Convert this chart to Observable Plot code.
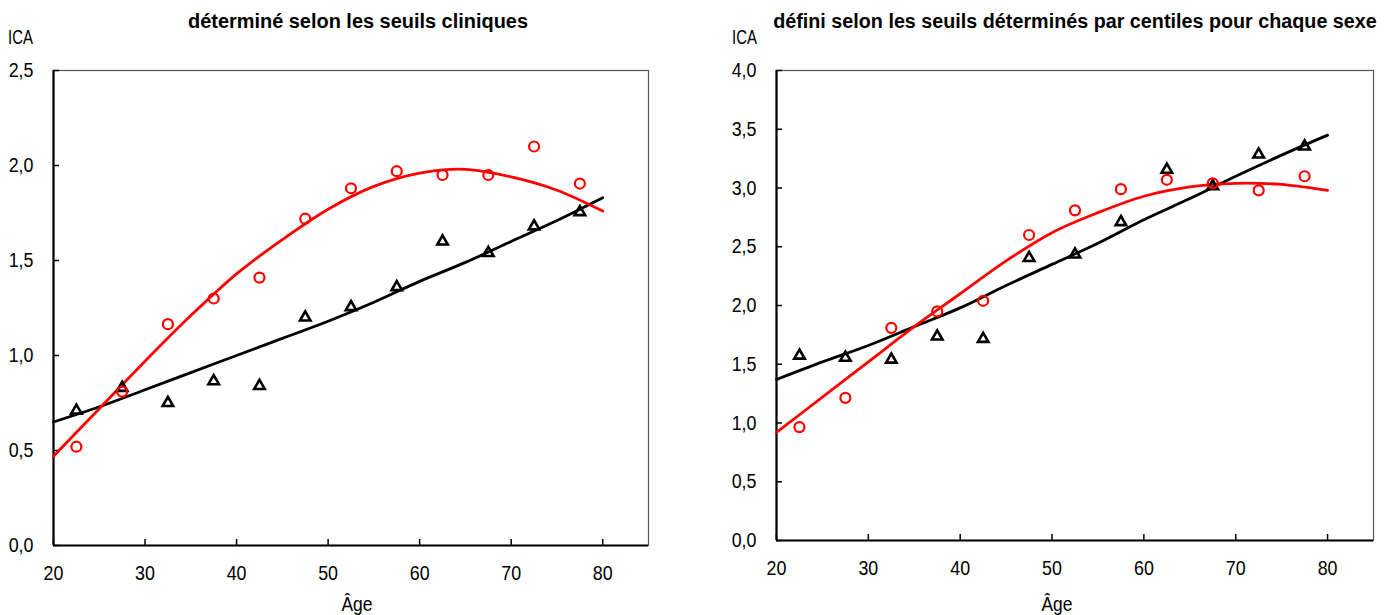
<!DOCTYPE html>
<html>
<head>
<meta charset="utf-8">
<script src="https://cdn.jsdelivr.net/npm/d3@7"></script>
<script src="https://cdn.jsdelivr.net/npm/@observablehq/plot@0.6"></script>
<style>
  html, body { margin: 0; padding: 0; background: #fff; }
  #wrap { display: flex; width: 1396px; height: 615px; font-family: "Liberation Sans", sans-serif; }
  #wrap svg { overflow: visible; flex: none; }
</style>
</head>
<body>
<div id="wrap"></div>
<script>
// Age groups (midpoints) for observed points
const ages = [22.5, 27.5, 32.5, 37.5, 42.5, 47.5, 52.5, 57.5, 62.5, 67.5, 72.5, 77.5];
// Ages at which fitted curves were read
const fitAges = [20, 25, 30, 35, 40, 45, 50, 55, 60, 65, 70, 75, 80];

// Left panel: clinical thresholds
const leftRedPts   = [0.52, 0.81, 1.165, 1.30, 1.41, 1.72, 1.88, 1.97, 1.95, 1.95, 2.10, 1.905];
const leftBlackPts = [0.71, 0.83, 0.75, 0.865, 0.84, 1.20, 1.255, 1.36, 1.60, 1.54, 1.68, 1.755];
const leftRedFit   = [0.47, 0.72, 0.97, 1.21, 1.43, 1.61, 1.77, 1.89, 1.96, 1.98, 1.94, 1.87, 1.76];
const leftBlackFit = [0.65, 0.73, 0.82, 0.91, 1.00, 1.09, 1.18, 1.28, 1.39, 1.49, 1.60, 1.71, 1.83];

// Right panel: sex-specific centile thresholds
const rightRedPts   = [0.965, 1.214, 1.81, 1.95, 2.04, 2.60, 2.81, 2.99, 3.07, 3.04, 2.98, 3.10];
const rightBlackPts = [1.574, 1.555, 1.54, 1.736, 1.716, 2.405, 2.434, 2.71, 3.155, 3.015, 3.285, 3.353];
const rightRedFit   = [0.92, 1.22, 1.52, 1.82, 2.10, 2.38, 2.62, 2.79, 2.93, 3.01, 3.04, 3.03, 2.98];
const rightBlackFit = [1.37, 1.52, 1.66, 1.82, 1.98, 2.17, 2.35, 2.53, 2.73, 2.91, 3.10, 3.28, 3.45];

const xTicks = [20, 30, 40, 50, 60, 70, 80];
const leftYTicks = [0, 0.5, 1.0, 1.5, 2.0, 2.5];
const rightYTicks = [0, 0.5, 1.0, 1.5, 2.0, 2.5, 3.0, 3.5, 4.0];

const titles = ["déterminé selon les seuils cliniques", "défini selon les seuils déterminés par centiles pour chaque sexe"];
const yLabel = "ICA";
const xLabel = "Âge";

const FONT = '"Liberation Sans", Arial, sans-serif';
const fmt = d => d.toFixed(1).replace(".", ",");

function panel(cfg) {
  const pts = ages.map((a, i) => ({a, red: cfg.redPts[i], black: cfg.blackPts[i]}));
  const fit = fitAges.map((a, i) => ({a, red: cfg.redFit[i], black: cfg.blackFit[i]}));
  const svg = Plot.plot({
    width: cfg.width, height: 615,
    marginLeft: cfg.ml, marginRight: cfg.mr, marginTop: 70, marginBottom: cfg.mb,
    style: {fontFamily: FONT, fontSize: "21px", color: "#000", background: "#fff", overflow: "visible"},
    x: {domain: [20, 85]},
    y: {domain: cfg.ydom},
    marks: [
      Plot.frame({stroke: "#555", strokeWidth: 1.2}),
      Plot.axisX({ticks: xTicks, tickSize: -6, tickPadding: 26, strokeWidth: 1.5, label: null, fontSize: 21}),
      Plot.axisY({ticks: cfg.yticks, tickSize: -6, tickPadding: 26, strokeWidth: 1.5, tickFormat: fmt, label: null, fontSize: 21}),
      Plot.ruleX([20], {stroke: "#000", strokeWidth: 2.2}),
      Plot.ruleY([0], {stroke: "#000", strokeWidth: 2.2}),
      Plot.line(fit, {x: "a", y: "black", stroke: "#000", strokeWidth: 2.8, curve: "catmull-rom"}),
      Plot.line(fit, {x: "a", y: "red", stroke: "#ff0000", strokeWidth: 2.8, curve: "catmull-rom"}),
      Plot.dot(pts, {x: "a", y: "black", symbol: "triangle", r: 3.9, stroke: "#000", strokeWidth: 2.6, fill: "none"}),
      Plot.dot(pts, {x: "a", y: "red", symbol: "circle", r: 5, stroke: "#ff0000", strokeWidth: 2.2, fill: "none"})
    ]
  });
  const s = d3.select(svg);
  // condense tick labels horizontally (narrow typeface look)
  s.selectAll('g[aria-label$="tick label"] text').each(function() {
    const t = this.getAttribute("transform") || "";
    this.setAttribute("transform", t + " scale(0.85,1)");
  });
  s.append("text").attr("class", "fit").attr("data-cx", cfg.titleX).attr("data-y", 28).attr("data-w", cfg.titleW)
    .attr("text-anchor", "middle").attr("font-weight", "bold").attr("font-size", 21).attr("font-family", FONT)
    .text(cfg.title);
  s.append("text").attr("class", "fit").attr("data-cx", cfg.icaX + 12.5).attr("data-y", 44).attr("data-w", 25)
    .attr("text-anchor", "middle").attr("font-size", 21).attr("font-family", FONT).text(yLabel);
  s.append("text").attr("class", "fit").attr("data-cx", cfg.ageX).attr("data-y", 611).attr("data-w", 31)
    .attr("text-anchor", "middle").attr("font-size", 21).attr("font-family", FONT).text(xLabel);
  return svg;
}

const wrap = document.getElementById("wrap");
wrap.appendChild(panel({
  width: 700, ml: 53, mr: 52, mb: 70, ydom: [0, 2.5], yticks: leftYTicks,
  redPts: leftRedPts, blackPts: leftBlackPts, redFit: leftRedFit, blackFit: leftBlackFit,
  title: titles[0], titleX: 358, titleW: 340, icaX: 8, ageX: 357
}));
wrap.appendChild(panel({
  width: 696, ml: 76, mr: 23, mb: 75, ydom: [0, 4], yticks: rightYTicks,
  redPts: rightRedPts, blackPts: rightBlackPts, redFit: rightRedFit, blackFit: rightBlackFit,
  title: titles[1], titleX: 375, titleW: 604, icaX: 32, ageX: 357
}));
// horizontally scale the labels to the narrow widths seen in the reference
document.querySelectorAll("text.fit").forEach(el => {
  const len = el.getComputedTextLength() || 1;
  const k = (+el.getAttribute("data-w")) / len;
  el.setAttribute("transform", `translate(${el.getAttribute("data-cx")},${el.getAttribute("data-y")}) scale(${k},1)`);
});
</script>
</body>
</html>
